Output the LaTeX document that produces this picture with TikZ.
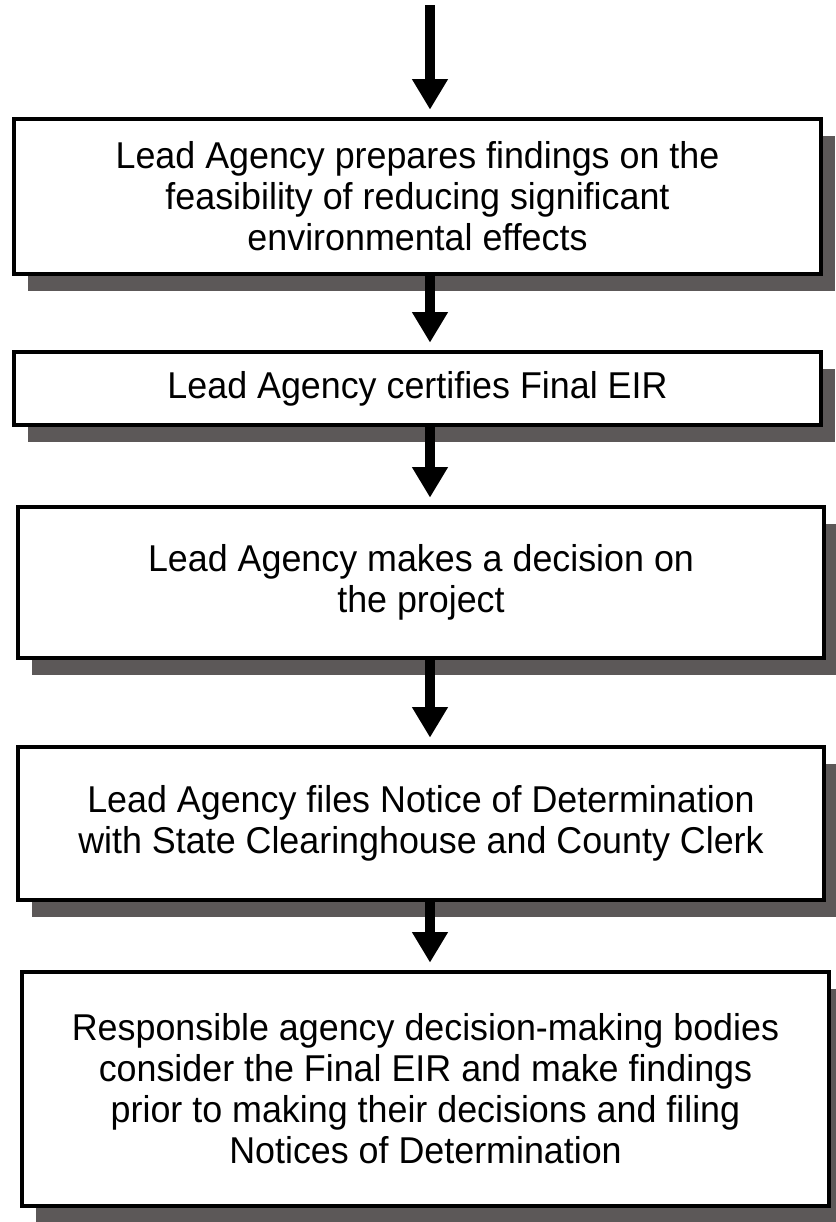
\documentclass[tikz,border=0pt]{standalone}
\usepackage{fontspec}
\setmainfont{Liberation Sans}[FakeStretch=0.96]
\usetikzlibrary{arrows.meta,shadows}
\definecolor{shadowgray}{HTML}{5C5858}
\tikzset{
  stepbox/.style={draw=black, line width=3pt, fill=white, align=center,
    inner sep=0pt, minimum width=605pt,
    font=\fontsize{28}{30.75}\selectfont,
    drop shadow={shadow xshift=10.5pt, shadow yshift=-13pt, fill=shadowgray, opacity=1}},
  flow/.style={line width=7pt, -{Triangle[width=25.5pt,length=23pt]}, shorten >=5.5pt}
}
\begin{document}
\begin{tikzpicture}[x=0.75pt,y=-0.75pt]
\useasboundingbox (0,0) rectangle (836,1222);
\coordinate (ax) at (430,0);
\coordinate (start) at (430,5);
\node[stepbox, minimum height=116.25pt] (b1) at (417.5,196.5)
  {Lead Agency prepares findings on the\\feasibility of reducing significant\\environmental effects};
\node[stepbox, minimum height=54.75pt] (b2) at (417.5,388.5)
  {Lead Agency certifies Final EIR};
\node[stepbox, minimum height=113.25pt] (b3) at (421,582.5)
  {Lead Agency makes a decision on\\the project};
\node[stepbox, minimum height=114.75pt] (b4) at (421,823.5)
  {Lead Agency files Notice of Determination\\with State Clearinghouse and County Clerk};
\node[stepbox, minimum height=175.5pt] (b5) at (425.5,1089)
  {Responsible agency decision-making bodies\\consider the Final EIR and make findings\\prior to making their decisions and filing\\Notices of Determination};
\draw[flow] (start) -- (b1.north -| ax);
\draw[flow] (b1.south -| ax) -- (b2.north -| ax);
\draw[flow] (b2.south -| ax) -- (b3.north -| ax);
\draw[flow] (b3.south -| ax) -- (b4.north -| ax);
\draw[flow] (b4.south -| ax) -- (b5.north -| ax);
\end{tikzpicture}
\end{document}
